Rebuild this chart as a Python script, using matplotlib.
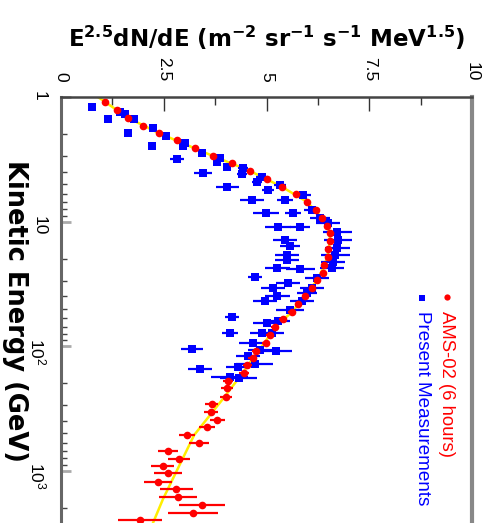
import numpy as np
import matplotlib
matplotlib.use("Agg")
import matplotlib.pyplot as plt
from matplotlib.ticker import FixedLocator, NullFormatter, LogLocator

plt.rcParams['font.family'] = ['Liberation Sans', 'DejaVu Sans']
plt.rcParams['mathtext.fontset'] = 'custom'
plt.rcParams['mathtext.rm'] = 'Liberation Sans'
plt.rcParams['mathtext.it'] = 'Liberation Sans'
plt.rcParams['mathtext.bf'] = 'Liberation Sans:bold'

# AMS-02 (6 hours): kinetic energy (GeV), E^2.5 flux, flux error
ams_energy = [1.10, 1.27, 1.47, 1.71, 1.95, 2.21, 2.57, 2.98, 3.39, 3.93,
              4.56, 5.28, 6.01, 6.97, 8.09, 9.37, 10.9, 12.4, 14.3, 16.6,
              19.3, 22.4, 25.9, 29.5, 34.2, 39.7, 46.0, 53.3, 60.7, 70.4,
              81.6, 94.6, 110, 125, 142, 165, 191, 217, 257, 292,
              339, 393, 448, 519, 601, 697, 809, 920, 1047, 1237,
              1408, 1633, 1892, 2194, 2498]
ams_flux = [1.07, 1.36, 1.63, 2.00, 2.38, 2.82, 3.26, 3.70, 4.16, 4.60,
            5.01, 5.38, 5.72, 5.99, 6.20, 6.35, 6.47, 6.55, 6.55, 6.50,
            6.50, 6.40, 6.37, 6.23, 6.11, 5.94, 5.77, 5.62, 5.40, 5.21,
            5.09, 4.99, 4.74, 4.67, 4.53, 4.45, 4.06, 4.04, 4.01, 3.67,
            3.65, 3.80, 3.55, 3.07, 3.36, 2.60, 2.87, 2.48, 2.60, 2.36,
            2.80, 2.85, 3.43, 3.21, 1.92]
ams_err = [0.04, 0.04, 0.04, 0.04, 0.04, 0.04, 0.04, 0.04, 0.04, 0.04,
           0.05, 0.05, 0.05, 0.05, 0.05, 0.06, 0.06, 0.06, 0.06, 0.07,
           0.07, 0.07, 0.07, 0.08, 0.08, 0.08, 0.08, 0.09, 0.09, 0.09,
           0.10, 0.10, 0.10, 0.11, 0.11, 0.12, 0.13, 0.14, 0.15, 0.16,
           0.17, 0.18, 0.19, 0.20, 0.25, 0.24, 0.26, 0.28, 0.34, 0.34,
           0.40, 0.46, 0.56, 0.60, 0.54]

# Model curve through the AMS-02 spectrum
model_energy = [1.0, 1.47, 1.95, 2.98, 3.93, 5.28, 6.97, 9.37, 12.4, 16.6,
                22.4, 29.5, 39.7, 53.3, 70.4, 94.6, 125, 165, 271, 519,
                1700, 2630, 3000]
model_flux = [0.90, 1.63, 2.38, 3.70, 4.60, 5.38, 5.99, 6.35, 6.55, 6.52,
              6.42, 6.23, 5.94, 5.62, 5.21, 4.95, 4.67, 4.42, 3.92, 3.24,
              2.48, 2.24, 2.15]

# Present measurements: kinetic energy (GeV), E^2.5 flux, flux error
meas_energy = [1.20, 1.50, 1.32, 1.37, 1.50, 1.95, 1.77, 2.06, 2.47, 2.34,
               2.47, 3.15, 2.82, 3.09, 3.33, 3.65, 4.08, 4.15, 3.72, 4.82,
               5.28, 4.39, 5.58, 5.09, 6.72, 6.72, 6.12, 8.55, 8.55, 8.09,
               9.37, 11.1, 11.1, 10.3, 12.1, 14.1, 15.7, 14.1, 16.3, 18.6,
               20.4, 18.6, 21.2, 23.6, 24.1, 23.6, 27.9, 28.4, 31.2, 34.2,
               34.2, 39.7, 37.5, 43.5, 43.5, 51.4, 58.5, 65.4, 63.0, 78.7,
               78.7, 78.7, 94.6, 106, 108, 110, 120, 140, 148, 153,
               177, 181]
meas_flux = [0.75, 1.14, 1.44, 1.56, 1.78, 1.63, 2.24, 2.55, 2.21, 3.02,
             2.97, 2.82, 3.43, 3.87, 3.80, 4.04, 3.45, 4.40, 4.43, 4.77,
             4.04, 4.89, 5.04, 5.33, 4.65, 5.45, 5.89, 4.99, 5.64, 6.11,
             6.30, 5.28, 5.82, 6.50, 6.72, 5.45, 5.57, 6.74, 6.72, 5.50,
             5.50, 6.67, 6.62, 5.26, 5.82, 6.59, 4.72, 6.23, 5.52, 5.16,
             6.11, 5.26, 5.99, 4.96, 5.86, 5.57, 4.16, 5.01, 5.28, 4.11,
             4.89, 5.13, 4.67, 3.19, 4.84, 5.23, 4.55, 4.72, 4.31, 3.38,
             4.11, 4.33]
meas_err = [0.05, 0.05, 0.05, 0.05, 0.05, 0.05, 0.05, 0.05, 0.05, 0.05,
            0.05, 0.17, 0.10, 0.10, 0.10, 0.10, 0.22, 0.12, 0.12, 0.12,
            0.28, 0.15, 0.15, 0.15, 0.30, 0.20, 0.20, 0.32, 0.20, 0.20,
            0.25, 0.32, 0.25, 0.30, 0.35, 0.30, 0.25, 0.35, 0.30, 0.30,
            0.30, 0.35, 0.30, 0.30, 0.35, 0.30, 0.17, 0.30, 0.30, 0.30,
            0.30, 0.30, 0.25, 0.30, 0.30, 0.35, 0.17, 0.35, 0.30, 0.20,
            0.30, 0.30, 0.35, 0.27, 0.30, 0.40, 0.30, 0.45, 0.30, 0.30,
            0.45, 0.45]

flux_ticks = [0, 2.5, 5, 7.5, 10]
flux_ticklabels = ['0', '2.5', '5', '7.5', '10']
energy_ticks = [1, 10, 100, 1000]
energy_ticklabels = ['1', '10', '$10^2$', '$10^3$']

W, H = 490, 523
fig = plt.figure(figsize=(W / 100, H / 100), dpi=100)
# Energy runs downward on a log axis; the frame continues past the lower edge
ax = fig.add_axes([61 / W, (H - 97 - 498) / H, 411 / W, 498 / H])
ax.set_xscale('linear')
ax.set_yscale('log')
ax.set_xlim(0, 10)
ax.set_ylim(1e4, 1)

ax.plot(model_flux, model_energy, color='#ffee00', lw=1.8, zorder=2)
ax.errorbar(meas_flux, meas_energy, xerr=meas_err, fmt='s', color='#0000ff',
            ms=5.2, mew=0, elinewidth=1.6, capsize=0, zorder=3)
ax.errorbar(ams_flux, ams_energy, xerr=ams_err, fmt='o', color='#ff0000',
            ms=5.5, mew=0, elinewidth=1.6, capsize=0, zorder=4)

# Flux axis on top
ax.xaxis.tick_top()
ax.xaxis.set_major_locator(FixedLocator(flux_ticks))
ax.xaxis.set_minor_locator(FixedLocator(np.arange(0, 10.01, 1.25)))
ax.set_xticklabels(flux_ticklabels, rotation=-90, fontsize=12.5)
ax.tick_params(axis='x', which='major', direction='in', length=10, width=1,
               color='#333333', pad=11, top=True, bottom=False)
ax.tick_params(axis='x', which='minor', direction='in', length=6, width=1,
               color='#333333', top=True, bottom=False)

# Energy axis on the left
ax.yaxis.set_major_locator(FixedLocator(energy_ticks))
ax.yaxis.set_minor_locator(LogLocator(base=10, subs=np.arange(2, 10)))
ax.yaxis.set_minor_formatter(NullFormatter())
ax.set_yticklabels(energy_ticklabels, rotation=-90, fontsize=12.5)
ax.tick_params(axis='y', which='major', direction='in', length=7, width=2,
               color='#aaaaaa', pad=10, left=True, right=False)
ax.tick_params(axis='y', which='minor', direction='in', length=4, width=1,
               color='#444444', left=True, right=False)

ax.spines['left'].set_linewidth(2.2)
ax.spines['left'].set_color('#666666')
ax.spines['top'].set_linewidth(1.8)
ax.spines['top'].set_color('#444444')
ax.spines['right'].set_linewidth(3)
ax.spines['right'].set_color('#888888')

fig.text(267 / W, 1 - 38 / H,
         r'E$^{\mathregular{2.5}}$dN/dE (m$^{\mathregular{-2}}$ sr$^{\mathregular{-1}}$ '
         r's$^{\mathregular{-1}}$ MeV$^{\mathregular{1.5}}$)',
         ha='center', va='center', fontsize=16.5, fontweight='bold',
         family=['DejaVu Sans'])
fig.text(15 / W, 1 - 311 / H, 'Kinetic Energy (GeV)', rotation=-90,
         ha='center', va='center', fontsize=18.5, fontweight='bold',
         family=['DejaVu Sans'])

# Legend, laid out along the rotated frame
fig.lines.append(plt.Line2D([447 / W], [1 - 297 / H], transform=fig.transFigure,
                            marker='o', ms=4.5, color='#ff0000', mew=0, ls='none'))
fig.lines.append(plt.Line2D([422 / W], [1 - 298 / H], transform=fig.transFigure,
                            marker='s', ms=4.5, color='#0000ff', mew=0, ls='none'))
fig.text(447 / W, 1 - 311 / H, 'AMS-02 (6 hours)', rotation=-90, color='#ff0000',
         ha='center', va='top', fontsize=13.3)
fig.text(422 / W, 1 - 311 / H, 'Present Measurements', rotation=-90, color='#0000ff',
         ha='center', va='top', fontsize=13.6)

fig.savefig('out.png', dpi=100)
